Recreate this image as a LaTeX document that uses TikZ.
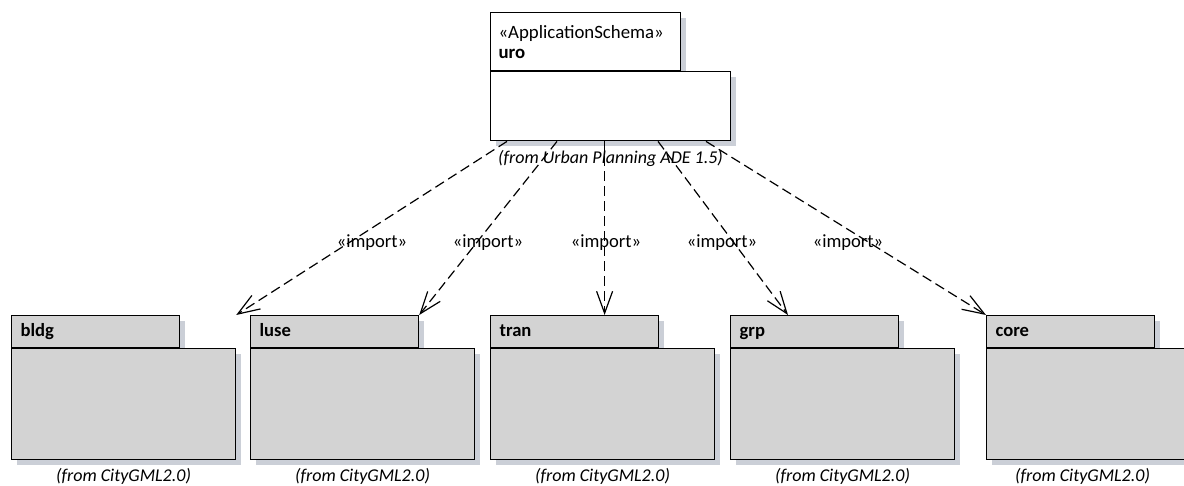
\documentclass[tikz,border=0pt]{standalone}
\usepackage{fontspec}
\setmainfont{Carlito}
\usetikzlibrary{positioning}
\usetikzlibrary{arrows.meta}
\usetikzlibrary{shadows}
\definecolor{pkgfill}{RGB}{211,211,211}
\definecolor{pkgshadow}{RGB}{203,207,215}
\tikzset{pkgshade/.style={general shadow={fill=pkgshadow, shadow xshift=2.5pt, shadow yshift=-2.5pt}},
  pkgtab/.style={pkgshade, draw, fill=pkgfill, line width=0.6pt, text width=75pt, inner xsep=4.5pt, inner ysep=0pt, minimum height=16pt, text height=6.8pt, text depth=1.6pt, align=left, font=\fontsize{9.3}{10}\selectfont\bfseries, anchor=north west},
  pkgbody/.style={pkgshade, draw, fill=pkgfill, line width=0.6pt, minimum width=112pt, minimum height=55.5pt, inner sep=0pt},
  fromlbl/.style={font=\fontsize{9}{10}\selectfont\itshape, inner sep=0pt},
  implbl/.style={inner sep=0pt},
  imp/.style={line width=0.6pt, dash pattern=on 5pt off 2.5pt, -{Straight Barb[length=11pt, width=8pt]}}}

\begin{document}
\begin{tikzpicture}[x=0.5pt, y=-0.5pt, font=\fontsize{9.3}{10}\selectfont]
    \useasboundingbox (0,0) rectangle (1184,486);
    \clip (0,0) rectangle (1184,486);
    % uro
    \node[pkgtab, fill=white, font=\fontsize{9.4}{10}\selectfont, text width=87pt, inner xsep=4pt, minimum height=29pt, text height=, text depth=](urotab) at (490,12){«ApplicationSchema»\\\textbf{uro}};
    \node[pkgbody, fill=white, minimum width=120pt, minimum height=34.5pt, below right=0pt and 0pt of urotab.south west](urobody){};
    \node[fromlbl, below=4.3pt of urobody](urofrom){(from Urban Planning ADE 1.5)};
    % CityGML packages
    \node[pkgtab](bldgtab) at (11,315){bldg};
    \node[pkgbody, below right=0pt and 0pt of bldgtab.south west](bldgbody){};
    \node[fromlbl, below=4pt of bldgbody](bldgfrom){(from CityGML2.0)};
    \node[pkgtab](lusetab) at (250,315){luse};
    \node[pkgbody, below right=0pt and 0pt of lusetab.south west](lusebody){};
    \node[fromlbl, below=4pt of lusebody](lusefrom){(from CityGML2.0)};
    \node[pkgtab](trantab) at (490,315){tran};
    \node[pkgbody, below right=0pt and 0pt of trantab.south west](tranbody){};
    \node[fromlbl, below=4pt of tranbody](tranfrom){(from CityGML2.0)};
    \node[pkgtab](grptab) at (730,315){grp};
    \node[pkgbody, below right=0pt and 0pt of grptab.south west](grpbody){};
    \node[fromlbl, below=4pt of grpbody](grpfrom){(from CityGML2.0)};
    \node[pkgtab](coretab) at (986,315){core};
    \node[pkgbody, below right=0pt and 0pt of coretab.south west](corebody){};
    \node[fromlbl, below=4pt of corebody, xshift=-8pt](corefrom){(from CityGML2.0)};
    % imports
    \coordinate (tstart) at ([xshift=-3pt]urobody.south);
    \draw[imp] ([xshift=8.5pt]urobody.south west) -- (bldgbody.north east |- bldgtab.north);
    \draw[imp] ([xshift=33.5pt]urobody.south west) -- (lusetab.north east);
    \draw[imp] (tstart) -- (tstart |- trantab.north);
    \draw[imp] ([xshift=84pt]urobody.south west) -- ([xshift=29pt]grptab.north west);
    \draw[imp] ([xshift=108pt]urobody.south west) -- (coretab.north west);
    \node[implbl](imp1) at (372,243){«import»};
    \node[implbl](imp2) at (488,243){«import»};
    \node[implbl](imp3) at (606,243){«import»};
    \node[implbl](imp4) at (722,243){«import»};
    \node[implbl](imp5) at (848,243){«import»};
\end{tikzpicture}
\end{document}
